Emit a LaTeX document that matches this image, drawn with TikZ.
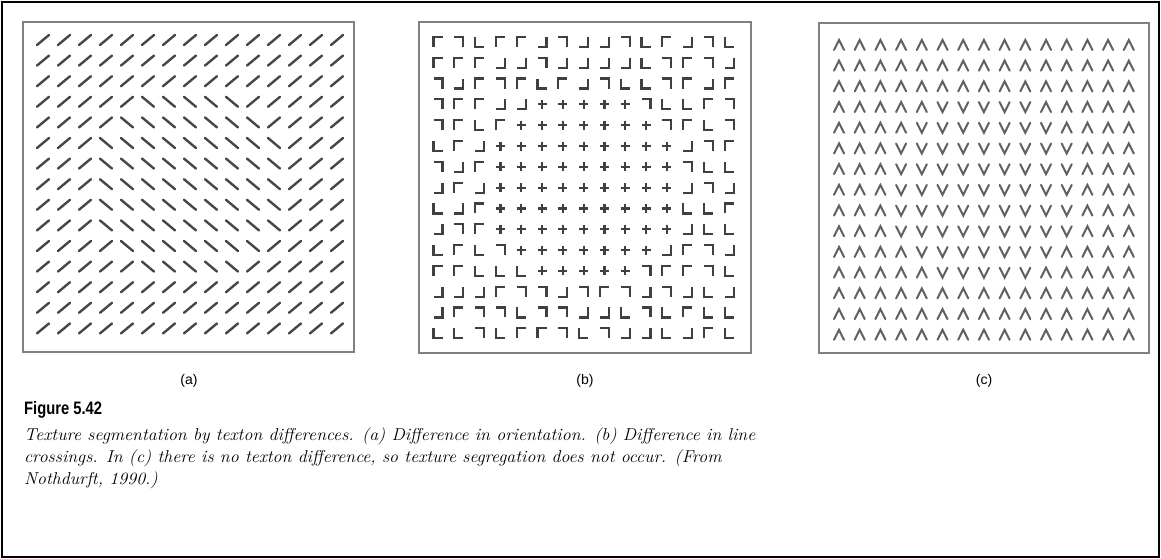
\documentclass[tikz,border=0pt]{standalone}
\usepackage{fontspec}
\newfontfamily\figfont{Liberation Sans}[FakeStretch=0.82]
\newfontfamily\labfont{Liberation Sans}
\newfontfamily\capfont{Latin Modern Roman}[FakeStretch=1.04]
\begin{document}
\begin{tikzpicture}[x=1pt,y=-1pt,
  panel/.style={draw=black!50, line width=2.6pt},
  texa/.style={line width=2.4pt, draw=black!72, line cap=round},
  texb/.style={line width=2.2pt, draw=black!75, line cap=butt, line join=miter},
  texc/.style={line width=2pt, draw=black!62, line cap=round, line join=miter},
  lab/.style={font=\labfont\fontsize{14}{16}\selectfont, inner sep=0pt},
  captxt/.style={font=\capfont\fontsize{17.2}{20}\selectfont\itshape, anchor=base west, inner sep=0pt}]
\useasboundingbox (0,0) rectangle (1161,559);
\fill[white] (0,0) rectangle (1161,559);
\draw[line width=2pt] (2,2) rectangle (1159,557);

% ---------- panel (a): orientation ----------
\draw[panel] (23,22) rectangle (354,352);
\foreach \r in {1,...,15}{
  \foreach \c in {1,...,15}{
    \pgfmathtruncatemacro{\ins}{and(and(\r>=4,\r<=12),abs(\c-8)<=min(4,\r-2,14-\r))}
    \pgfmathsetmacro{\xx}{43+21*(\c-1)}
    \pgfmathsetmacro{\yy}{40+20.6*(\r-1)}
    \ifnum\ins=1
      \draw[texa] (\xx-6,\yy-5) -- (\xx+6,\yy+5);
    \else
      \draw[texa] (\xx-6,\yy+5) -- (\xx+6,\yy-5);
    \fi
  }
}

% ---------- panel (b): corners and crosses ----------
\draw[panel] (419,22) rectangle (751,353);
\foreach \rowlist [count=\r] in {
  {A,B,C,A,A,D,B,D,D,B,C,A,D,B,C},
  {A,A,A,D,D,B,D,D,D,D,C,B,A,B,D},
  {B,D,A,B,A,C,A,D,B,C,C,B,A,D,A},
  {B,A,A,D,D,P,P,P,P,P,B,C,C,A,B},
  {B,A,C,A,P,P,P,P,P,P,P,B,A,C,B},
  {C,A,D,P,P,P,P,P,P,P,P,P,D,B,A},
  {B,D,A,P,P,P,P,P,P,P,P,P,B,C,C},
  {D,A,D,P,P,P,P,P,P,P,P,P,D,B,D},
  {C,D,A,P,P,P,P,P,P,P,P,P,C,C,A},
  {D,B,A,P,P,P,P,P,P,P,P,P,D,C,C},
  {C,A,C,B,P,P,P,P,P,P,P,D,A,B,D},
  {A,A,C,C,C,P,P,P,P,P,B,A,A,B,C},
  {D,D,D,A,B,B,D,B,A,B,D,B,D,C,D},
  {D,A,B,B,C,B,B,D,D,C,B,C,A,C,C},
  {C,C,B,C,A,A,B,C,B,D,D,C,D,A,C}}{
  \foreach \t [count=\c] in \rowlist {
    \pgfmathsetmacro{\xx}{438+20.8*(\c-1)}
    \pgfmathsetmacro{\yy}{42+20.8*(\r-1)}
    \if\t P
      \draw[texb] (\xx-4.5,\yy) -- (\xx+4.5,\yy) (\xx,\yy-4.5) -- (\xx,\yy+4.5);
    \else
      \if\t A \def\kx{-1}\def\ky{-1}\fi
      \if\t B \def\kx{1}\def\ky{-1}\fi
      \if\t C \def\kx{-1}\def\ky{1}\fi
      \if\t D \def\kx{1}\def\ky{1}\fi
      \pgfmathsetmacro{\xa}{\xx+(\kx)*4.5}
      \pgfmathsetmacro{\xb}{\xx-(\kx)*4.5}
      \pgfmathsetmacro{\ya}{\yy-(\ky)*5}
      \pgfmathsetmacro{\yb}{\yy+(\ky)*5}
      \draw[texb] (\xa,\ya) -- (\xa,\yb) -- (\xb,\yb);
    \fi
  }
}

% ---------- panel (c): no texton difference ----------
\draw[panel] (819,23) rectangle (1149,353);
\foreach \r in {1,...,15}{
  \foreach \c in {1,...,15}{
    \pgfmathtruncatemacro{\ins}{and(and(\r>=4,\r<=12),abs(\c-8)<=min(4,\r-2,14-\r))}
    \pgfmathsetmacro{\xx}{839+20.7*(\c-1)}
    \pgfmathsetmacro{\yy}{45+20.7*(\r-1)}
    \ifnum\ins=1
      \draw[texc] (\xx-5,\yy-5) -- (\xx,\yy+5) -- (\xx+5,\yy-5);
    \else
      \draw[texc] (\xx-5,\yy+5) -- (\xx,\yy-5) -- (\xx+5,\yy+5);
    \fi
  }
}

% ---------- labels and caption ----------
\node[lab] (la) at (189,381) {(a)};
\node[lab] (lb) at (585,381) {(b)};
\node[lab] (lc) at (984,381) {(c)};
\node[anchor=base west, inner sep=0pt, font=\figfont\bfseries\fontsize{18}{20}\selectfont] (fig) at (24,414) {Figure 5.42};
\node[captxt] (c1) at (24,440) {Texture segmentation by texton differences. (a) Difference in orientation. (b) Difference in line};
\node[captxt] (c2) at (24,462) {crossings. In (c) there is no texton difference, so texture segregation does not occur. (From};
\node[captxt] (c3) at (24,484) {Nothdurft, 1990.)};
\end{tikzpicture}
\end{document}
